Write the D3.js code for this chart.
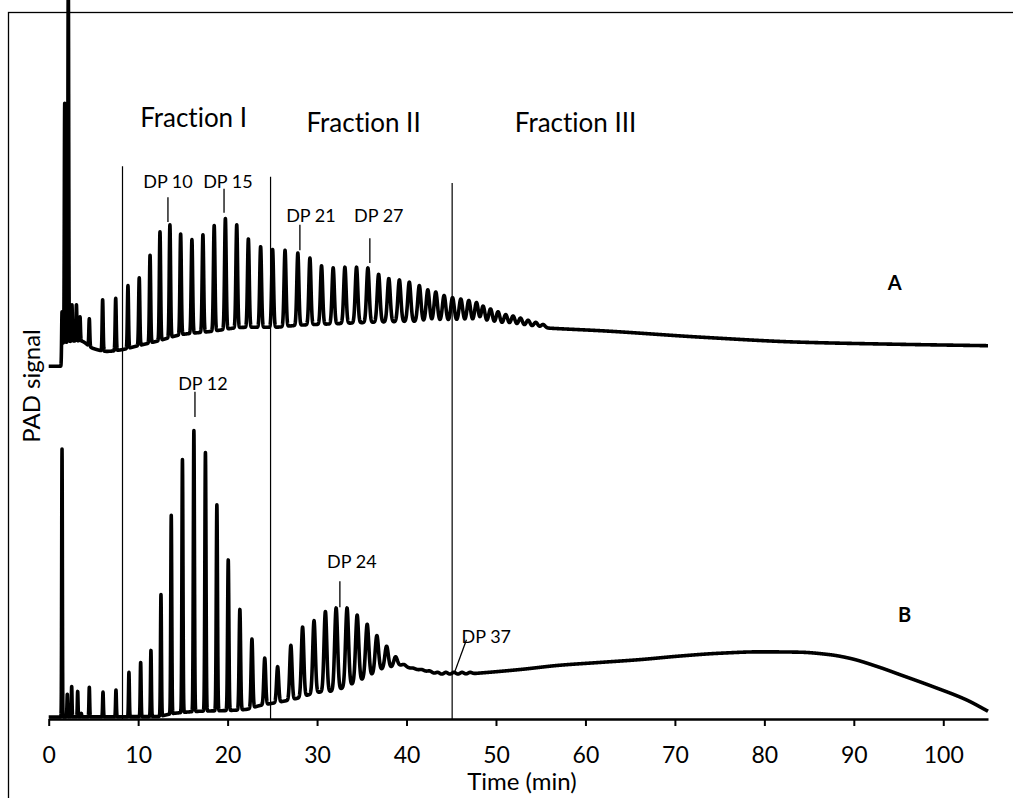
<!DOCTYPE html>
<html><head><meta charset="utf-8">
<script src="https://cdn.jsdelivr.net/npm/d3@7"></script>
<style>html,body{margin:0;padding:0;background:#fff;} svg{display:block;font-family:Lato,"Open Sans",sans-serif;font-variant-ligatures:none;font-feature-settings:"liga" 0,"clig" 0;}</style>
</head><body><svg id="chart" width="1013" height="798"></svg>
<script>
// ---------- data (time in min, PAD signal in arbitrary units) ----------
const timeTicks = [0, 10, 20, 30, 40, 50, 60, 70, 80, 90, 100];

// Trace A peaks: retention time and apex signal
const aPeakTimes = [1.49, 1.79, 2.19, 2.6, 3.1, 3.5, 4.54, 6.03, 7.49, 8.86, 10.12, 11.33, 12.44, 13.55, 14.75, 16.01, 17.24, 18.5, 19.75, 21.02, 22.32, 23.69, 25.03, 26.42, 27.85, 29.2, 30.5, 31.8, 33.11, 34.41, 35.68, 36.88, 38.02, 39.2, 40.31, 41.43, 42.38, 43.27, 44.2, 45.14, 46.07, 46.96, 47.82, 48.56, 49.39, 50.23, 51.09, 51.91, 52.74, 53.59, 54.45, 55.26];
const aPeakApex = [57.6, 87.1, 105, 58.6, 58.6, 56.9, 56.6, 59.3, 59.5, 61.3, 62.4, 65.6, 68.9, 69.9, 68.6, 67.8, 68.5, 69.8, 70.8, 69.9, 67.9, 66.8, 66.4, 66.3, 65.9, 65.2, 64.1, 63.8, 63.9, 63.9, 63.8, 62.9, 62.3, 62.1, 61.8, 61.3, 60.7, 60.4, 59.9, 59.6, 59.4, 59.2, 58.9, 58.4, 58.0, 57.6, 57.2, 57.0, 56.7, 56.4, 56.1, 55.8];
// Trace A baseline (valley level)
const aBaseTimes = [0, 1.5, 1.6, 3.5, 5, 6.5, 8, 10, 12, 15, 18, 22, 25, 28, 32, 36, 40, 45, 50, 55.7, 62, 73, 84, 95, 105];
const aBaseValues = [49.9, 49.9, 53.1, 53.5, 52.4, 52.0, 52.2, 52.8, 53.4, 54.4, 54.8, 55.4, 55.4, 55.7, 55.9, 56.1, 56.2, 56.2, 55.8, 55.3, 54.9, 54.0, 53.3, 53.0, 52.8];
// Trace A peak width (sigma, min)
const aWidthTimes = [0, 10, 20, 30, 38, 45, 56];
const aWidthValues = [0.04, 0.065, 0.09, 0.12, 0.16, 0.19, 0.22];

// Trace B peaks
const bPeakTimes = [1.49, 2.08, 2.57, 3.24, 3.64, 4.54, 6.07, 7.52, 8.97, 10.28, 11.43, 12.55, 13.7, 14.95, 16.23, 17.52, 18.8, 20.07, 21.37, 22.72, 24.15, 25.59, 27.07, 28.38, 29.66, 30.93, 32.13, 33.35, 34.48, 35.6, 36.68, 37.77, 38.77, 39.73, 40.74, 41.7, 42.6, 43.5, 44.4, 45.3, 46.2, 47.1];
const bPeakApex = [38.2, 3.5, 4.6, 3.9, 0.8, 4.5, 3.8, 4.1, 6.6, 8.0, 9.7, 17.6, 28.8, 36.7, 40.8, 37.7, 30.3, 22.5, 15.5, 11.3, 8.6, 7.4, 10.4, 13.0, 13.9, 15.2, 15.7, 15.7, 14.7, 13.4, 11.8, 10.3, 8.8, 7.7, 7.2, 7.0, 6.8, 6.6, 6.6, 6.6, 6.6, 6.6];
const bBaseTimes = [0, 1.4, 1.6, 12, 14, 17, 20, 22, 23.6, 24.9, 26.2, 27.7, 29, 30.3, 31.4, 32.7, 33.9, 35.1, 36.2, 37.2, 38.3, 39.3, 40.4, 42, 44, 46, 48.2, 52.7, 57.1, 61.6, 66.1, 70.5, 75, 79.5, 83.9, 87.3, 89.5, 92.9, 95.1, 98.8, 102.6, 105];
const bBaseValues = [0.28, 0.28, 0.3, 0.35, 0.8, 1.1, 1.2, 1.35, 1.9, 2.2, 2.5, 2.9, 3.4, 3.8, 3.9, 4.3, 4.9, 5.6, 6.3, 7.0, 7.3, 7.6, 7.2, 6.8, 6.3, 6.3, 6.5, 7.0, 7.6, 8.0, 8.4, 8.9, 9.3, 9.5, 9.45, 9.1, 8.6, 7.3, 6.3, 4.6, 2.7, 1.1];
const bWidthTimes = [0, 12, 20, 26, 32, 40, 48];
const bWidthValues = [0.035, 0.05, 0.07, 0.12, 0.16, 0.2, 0.22];

// Fractions
const fractionNames = ["Fraction I", "Fraction II", "Fraction III"];
const fractionLabelTimes = [16.2, 35.2, 58.9];
const fractionLabelLevels = [83.7, 83.0, 83.0];
const fractionCutTimes = [8.25, 24.8, 45.1];
const fractionCutTops = [78.2, 76.7, 75.8];

// DP annotations
const dpLabels = ["DP 10", "DP 15", "DP 21", "DP 27", "DP 12", "DP 24", "DP 37"];
const dpLabelTimes = [13.33, 20.03, 29.31, 36.9, 17.24, 33.89, 46.15];
const dpLabelLevels = [75.1, 75.1, 70.3, 70.3, 46.6, 21.4, 10.7];
const dpLabelAnchors = ["middle", "middle", "middle", "middle", "middle", "middle", "start"];
const dpLeaderT1 = [13.33, 19.6, 28.08, 35.9, 16.35, 32.55, 46.7];
const dpLeaderV1 = [73.8, 75.0, 69.9, 68.0, 46.3, 19.5, 11.2];
const dpLeaderT2 = [13.33, 19.6, 28.08, 35.9, 16.35, 32.55, 45.4];
const dpLeaderV2 = [70.3, 71.6, 66.3, 64.5, 42.7, 15.8, 6.7];

const traceNames = ["A", "B"];
const traceLabelTimes = [94.56, 95.68];
const traceLabelLevels = [60.7, 13.7];

// ---------- drawing ----------
const svg = d3.select("#chart");
const x = d3.scaleLinear().domain([0, 105]).range([48.7, 988]);
const y = d3.scaleLinear().domain([0, 100]).range([719, 12]);

// frame
svg.append("rect").attr("x", 8.5).attr("y", 12.5).attr("width", 1100).attr("height", 900)
  .attr("fill", "none").attr("stroke", "#000").attr("stroke-width", 1.3);

// smooth monotone (Fritsch-Carlson) curve through baseline knots
function monotone(xs, ys) {
  const n = xs.length, dx = [], m = [], tan = new Array(n);
  for (let i = 0; i < n - 1; i++) { dx.push(xs[i + 1] - xs[i]); m.push((ys[i + 1] - ys[i]) / dx[i]); }
  tan[0] = m[0]; tan[n - 1] = m[n - 2];
  for (let i = 1; i < n - 1; i++) {
    if (m[i - 1] * m[i] <= 0) tan[i] = 0;
    else { const w1 = 2 * dx[i] + dx[i - 1], w2 = dx[i] + 2 * dx[i - 1]; tan[i] = (w1 + w2) / (w1 / m[i - 1] + w2 / m[i]); }
  }
  return t => {
    if (t <= xs[0]) return ys[0];
    if (t >= xs[n - 1]) return ys[n - 1];
    const i = Math.max(0, d3.bisectRight(xs, t) - 1);
    const h = dx[i], s = (t - xs[i]) / h, s2 = s * s, s3 = s2 * s;
    return (2 * s3 - 3 * s2 + 1) * ys[i] + (s3 - 2 * s2 + s) * h * tan[i] + (-2 * s3 + 3 * s2) * ys[i + 1] + (s3 - s2) * h * tan[i + 1];
  };
}

function buildTrace(pt, pa, bt, bv, wt, wv) {
  const base = monotone(bt, bv);
  const sig = d3.scaleLinear().domain(wt).range(wv).clamp(true);
  const peaks = pt.map((t, i) => ({t, amp: pa[i] - base(t), s: sig(t)}));
  const ts = d3.range(0, 105.0001, 0.01).concat(pt).sort((a, b) => a - b);
  return ts.map(t => {
    let v = base(t);
    for (const p of peaks) {
      const d = t - p.t;
      if (Math.abs(d) < 7 * p.s) v += p.amp * Math.exp(-d * d / (2 * p.s * p.s));
    }
    return [t, v];
  });
}

const aData = buildTrace(aPeakTimes, aPeakApex, aBaseTimes, aBaseValues, aWidthTimes, aWidthValues);
const bData = buildTrace(bPeakTimes, bPeakApex, bBaseTimes, bBaseValues, bWidthTimes, bWidthValues);

// fraction cut lines
svg.append("g").selectAll("line").data(fractionCutTimes).join("line")
  .attr("x1", d => x(d)).attr("x2", d => x(d))
  .attr("y1", (d, i) => y(fractionCutTops[i])).attr("y2", y(0))
  .attr("stroke", "#000").attr("stroke-width", 1.2);

// axis
const axis = d3.axisBottom(x).tickValues(timeTicks).tickSize(7).tickSizeOuter(0);
const gx = svg.append("g").attr("transform", `translate(0,${y(0)})`).call(axis);
gx.select(".domain").attr("stroke", "#000").attr("stroke-width", 2.6);
gx.selectAll(".tick line").attr("stroke", "#000").attr("stroke-width", 2);
gx.selectAll(".tick text").attr("dy", null).attr("y", 44).attr("font-size", 23)
  .attr("font-family", "Lato, sans-serif").attr("fill", "#000");

// traces
const line = d3.line().x(d => x(d[0])).y(d => y(d[1]));
[aData, bData].forEach(dat => {
  svg.append("path").datum(dat).attr("d", line).attr("fill", "none")
    .attr("stroke", "#000").attr("stroke-width", 3.6).attr("stroke-linejoin", "round");
});

// fraction labels
svg.append("g").selectAll("text").data(fractionNames).join("text")
  .attr("x", (d, i) => x(fractionLabelTimes[i])).attr("y", (d, i) => y(fractionLabelLevels[i]))
  .attr("text-anchor", "middle").attr("font-size", 26).attr("fill", "#000").text(d => d);

// DP leaders and labels
svg.append("g").selectAll("line").data(dpLabels).join("line")
  .attr("x1", (d, i) => x(dpLeaderT1[i])).attr("y1", (d, i) => y(dpLeaderV1[i]))
  .attr("x2", (d, i) => x(dpLeaderT2[i])).attr("y2", (d, i) => y(dpLeaderV2[i]))
  .attr("stroke", "#000").attr("stroke-width", 1.3);
svg.append("g").selectAll("text").data(dpLabels).join("text")
  .attr("x", (d, i) => x(dpLabelTimes[i])).attr("y", (d, i) => y(dpLabelLevels[i]))
  .attr("text-anchor", (d, i) => dpLabelAnchors[i]).attr("font-size", 18).attr("fill", "#000").text(d => d);

// trace labels
svg.append("g").selectAll("text").data(traceNames).join("text")
  .attr("x", (d, i) => x(traceLabelTimes[i])).attr("y", (d, i) => y(traceLabelLevels[i]))
  .attr("text-anchor", "middle").attr("font-size", 20).attr("font-weight", "bold").attr("fill", "#000").text(d => d);

// axis titles
svg.append("text").attr("x", x(52.9)).attr("y", 790).attr("text-anchor", "middle")
  .attr("font-size", 24).attr("fill", "#000").text("Time (min)");
svg.append("text").attr("transform", "translate(40,386) rotate(-90)").attr("text-anchor", "middle")
  .attr("font-size", 24).attr("fill", "#000").text("PAD signal");
</script></body></html>
